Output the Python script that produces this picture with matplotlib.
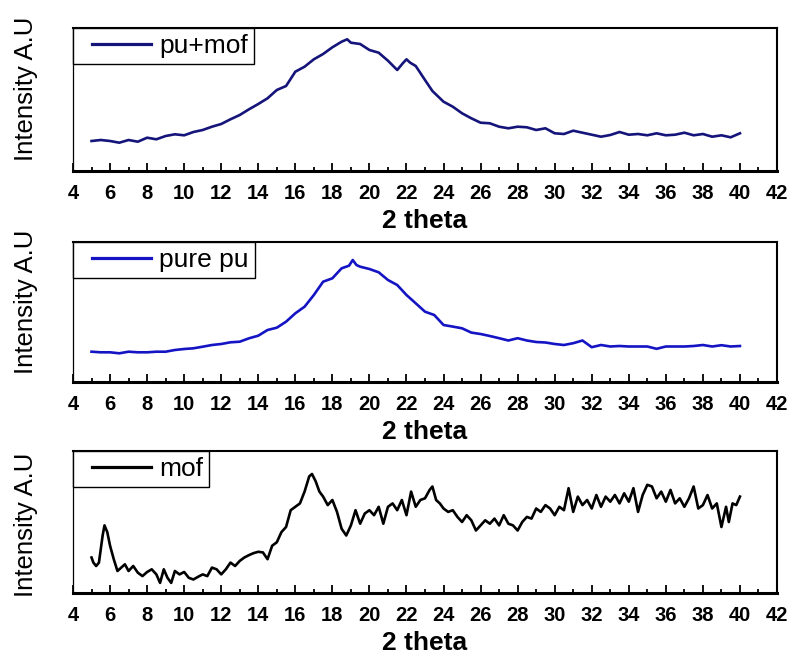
import matplotlib
matplotlib.use("Agg")
import matplotlib.pyplot as plt
from matplotlib.ticker import MultipleLocator
from matplotlib.lines import Line2D
from matplotlib.legend_handler import HandlerLine2D

plt.rcParams['font.family'] = ['Liberation Sans', 'DejaVu Sans']

# ---------------- data (arbitrary units) ----------------
pu_mof_x = [5, 5.5, 6, 6.5, 7, 7.5, 8, 8.5, 9, 9.5, 10, 10.5, 11, 11.5, 12, 12.5,
            13, 13.5, 14, 14.5, 15, 15.5, 16, 16.5, 17, 17.5, 18, 18.5, 18.8, 19,
            19.5, 20, 20.5, 21, 21.5, 21.8, 22, 22.2, 22.5, 23, 23.4, 24, 24.5, 25,
            25.5, 26, 26.5, 27, 27.5, 28, 28.5, 29, 29.5, 30, 30.5, 31, 31.5, 32,
            32.5, 33, 33.5, 34, 34.5, 35, 35.5, 36, 36.5, 37, 37.5, 38, 38.5, 39,
            39.5, 40]
pu_mof_y = [30, 31, 30, 28.3, 31, 29.3, 33.3, 31.7, 35, 36.7, 35.7, 39, 41, 44.3, 47,
            51.7, 56, 61.7, 67, 72.7, 81, 85, 99.3, 104.3, 111.7, 117, 123.7, 129.3,
            131.7, 128.3, 127, 121, 118.3, 110.3, 101, 107.7, 111.7, 108.3, 105, 91,
            80, 69.3, 64.3, 57.7, 52.7, 48.3, 47.7, 44.3, 42.7, 44.3, 43.7, 41, 42.7,
            37.7, 37, 40.3, 38.3, 36.3, 34.3, 36, 39, 36.3, 37, 35.7, 37.7, 35.7,
            36.3, 38.3, 35.7, 37, 34.3, 35.7, 33.7, 37.7]

pure_pu_x = [5, 5.5, 6, 6.5, 7, 7.5, 8, 8.5, 9, 9.5, 10, 10.5, 11, 11.5, 12, 12.5,
             13, 13.5, 14, 14.5, 15, 15.5, 16, 16.5, 17, 17.5, 18, 18.5, 18.9, 19.1,
             19.3, 19.5, 20, 20.5, 21, 21.5, 22, 22.5, 23, 23.5, 24, 24.5, 25, 25.5,
             26, 26.5, 27, 27.5, 28, 28.5, 29, 29.5, 30, 30.5, 31, 31.5, 32, 32.5,
             33, 33.5, 34, 34.5, 35, 35.5, 36, 36.5, 37, 37.5, 38, 38.5, 39, 39.5, 40]
pure_pu_y = [30.3, 29.7, 29.7, 28.7, 30.3, 29.7, 29.7, 30.3, 30.3, 32, 33, 33.7, 35.3,
             37, 38, 39.7, 40.3, 43.7, 46.3, 52, 54.3, 60.3, 68.7, 75.3, 87, 100.3,
             103.7, 113.7, 116.3, 122, 117, 115.3, 113, 109.7, 102, 97, 87, 78.7,
             70.3, 67, 57, 55.4, 53.7, 49.4, 48, 46, 43.8, 41.5, 43.8, 41.5, 40, 39.5,
             38, 37, 38.8, 41.5, 34.8, 37, 35.5, 36, 35.5, 35.5, 35.5, 33.2, 35.5,
             35.5, 35.5, 36, 37, 35.5, 36.8, 35.5, 36]

mof_x = [5.0, 5.1, 5.25, 5.4, 5.6, 5.7, 5.85, 6.0, 6.2, 6.4, 6.6, 6.8, 7.0, 7.25, 7.5,
         7.75, 8, 8.25, 8.5, 8.7, 8.9, 9.1, 9.3, 9.5, 9.75, 10, 10.25, 10.5, 10.75,
         11, 11.25, 11.5, 11.75, 12, 12.25, 12.5, 12.75, 13, 13.25, 13.5, 13.75, 14,
         14.25, 14.5, 14.75, 15, 15.25, 15.5, 15.75, 16, 16.25, 16.5, 16.75, 16.9,
         17.1, 17.3, 17.5, 17.75, 18, 18.25, 18.5, 18.75, 19, 19.25, 19.5, 19.75, 20,
         20.25, 20.5, 20.75, 21, 21.25, 21.5, 21.75, 22, 22.25, 22.5, 22.75, 23,
         23.25, 23.4, 23.6, 23.8, 24, 24.25, 24.5, 24.75, 25, 25.25, 25.5, 25.75, 26,
         26.25, 26.5, 26.75, 27, 27.25, 27.5, 27.75, 28, 28.25, 28.5, 28.75, 29,
         29.25, 29.5, 29.75, 30, 30.25, 30.5, 30.75, 31, 31.25, 31.5, 31.75, 32,
         32.25, 32.5, 32.75, 33, 33.25, 33.5, 33.75, 34, 34.25, 34.5, 34.75, 35,
         35.25, 35.5, 35.75, 36, 36.25, 36.5, 36.75, 37, 37.25, 37.5, 37.75, 38,
         38.25, 38.5, 38.75, 39, 39.25, 39.4, 39.6, 39.8, 40]
mof_y = [35.5, 30.4, 27, 30.4, 57.5, 67.6, 60.9, 47.3, 33.8, 22, 25.4, 28.7, 22, 27,
         20.3, 16.9, 21, 23.7, 18.6, 10.1, 23.7, 15.2, 10.1, 22, 18.6, 21, 15.2, 13.5,
         16.2, 18.6, 16.9, 25.4, 23.7, 18.6, 23.7, 30.4, 27, 32.1, 35.5, 37.9, 39.9,
         41.2, 40.6, 33.8, 47.3, 50.7, 60.9, 66, 82.8, 86.2, 89.6, 101.4, 116.6, 119,
         111.6, 101.4, 96.4, 87.9, 93, 81.1, 64.2, 57.5, 67.6, 82.8, 69.3, 79.5, 82.8,
         77.8, 86.2, 69.3, 86.2, 89.6, 82.8, 93, 77.8, 101.4, 86.2, 93, 94.7, 103.1,
         106.5, 93, 89.6, 84.5, 81.1, 82.8, 76.1, 71, 77.8, 72.7, 62.5, 67.6, 72.7,
         69.3, 74.4, 67.6, 77.8, 69.3, 67.6, 62.5, 71, 76.1, 74.4, 84.5, 81.1, 87.9,
         84.5, 77.8, 86.2, 82.8, 104.8, 81.1, 96.4, 87.9, 93, 84.5, 98, 86.2, 96.4,
         91.3, 98, 89.6, 99.7, 91.3, 104.8, 81.1, 98, 108.2, 106.5, 94.7, 101.4, 91.3,
         103.1, 89.6, 94.7, 86.2, 94.7, 106.5, 84.5, 87.9, 98, 84.5, 89.6, 66, 86.2,
         71, 89.6, 87.9, 96.4]

series = [
    ("pu+mof", pu_mof_x, pu_mof_y, "#14147a", 143),
    ("pure pu", pure_pu_x, pure_pu_y, "#1414c4", 140),
    ("mof", mof_x, mof_y, "#000000", 142),
]

x_ticks = list(range(4, 43, 2))

# ---------------- figure ----------------
fig = plt.figure(figsize=(7.92, 6.63), dpi=100)
W, H = 792.0, 663.0
boxes = [(28, 171), (242, 382), (451, 593)]  # top, bottom in pixels
ylab_y = [0.577, 0.571, 0.48]
left_px, right_px = 73, 777

for (label, xs, ys, color, ymax), (top, bot), ly in zip(series, boxes, ylab_y):
    ax = fig.add_axes([left_px / W, 1 - bot / H, (right_px - left_px) / W, (bot - top) / H])
    ax.plot(xs, ys, color=color, lw=1.9, label=label)
    ax.set_xlim(4, 42)
    ax.set_ylim(0, ymax)
    ax.set_xticks(x_ticks)
    ax.xaxis.set_minor_locator(MultipleLocator(1))
    ax.tick_params(axis='x', which='major', direction='in', length=5.5, width=1.3,
                   labelsize=14.5, pad=9.5)
    ax.tick_params(axis='x', which='minor', direction='in', length=3, width=1.3)
    ax.tick_params(axis='y', left=False, labelleft=False)
    for t in ax.get_xticklabels():
        t.set_fontweight('bold')
    ax.spines['bottom'].set_linewidth(2.2)
    ax.spines['top'].set_linewidth(1.5)
    ax.spines['right'].set_linewidth(1.5)
    ax.spines['left'].set_linewidth(0.9)
    ax.set_xlabel("2 theta", fontsize=19, fontweight='bold', labelpad=4)
    ax.set_ylabel("Intensity A.U", fontsize=18.5)
    ax.yaxis.set_label_coords(-0.05, ly)
    leg = ax.legend(loc='upper left', borderaxespad=0, fancybox=False,
                    framealpha=1, edgecolor='black', fontsize=19,
                    handlelength=2.75, handletextpad=0.3, borderpad=0.22,
                    handler_map={Line2D: HandlerLine2D(xpad=0.5)})
    leg.get_frame().set_linewidth(1.0)
    for ln in leg.get_lines():
        ln.set_linewidth(2.3)

fig.savefig("out.png", dpi=100)
